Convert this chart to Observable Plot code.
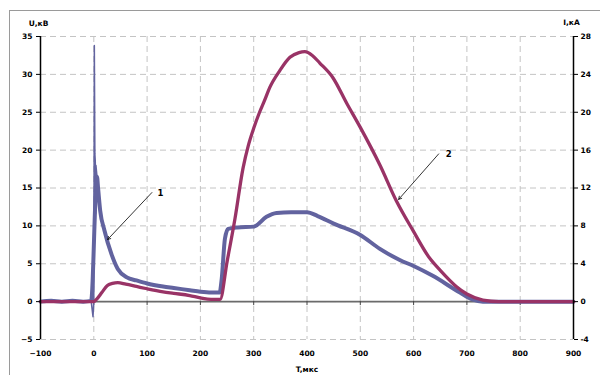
<!DOCTYPE html>
<html><head><meta charset="utf-8">
<script src="https://cdn.jsdelivr.net/npm/d3@7"></script>
<script src="https://cdn.jsdelivr.net/npm/@observablehq/plot@0.6"></script>
<style>
body{margin:0;background:#fff;overflow:hidden}
#wrap{position:relative;width:600px;height:375px;overflow:hidden}
#wrap svg{display:block}
#frame{position:absolute;left:9px;top:10px;width:640px;height:420px;border:1.5px solid #9a9a9a;pointer-events:none}
</style></head><body><div id="wrap"><div id="frame"></div></div>
<script>
// Series 1 (blue): time, мкс  / U, кВ
const T1 = [-100,-80,-60,-40,-20,-5,-1.5,0,1,2,2.8,3.4,4,6,8,12,20,33,45,62,80,100,130,150,180,200,220,236,240,246,252,270,300,324,343,370,400,420,450,500,536,574,600,636,687,710,730,760,800,850,900];
const U1 = [0,0.1,0,0.1,0,0.1,-2,0,33.8,19.5,18.5,11.6,18,16.5,15,12,9.4,6.3,4.3,3.2,2.8,2.4,2.0,1.8,1.5,1.3,1.2,1.2,3,8.3,9.6,9.8,9.9,11.2,11.7,11.8,11.8,11.3,10.3,8.8,7.0,5.5,4.7,3.4,1.2,0.3,0,0,0,0,0];
// Series 2 (crimson): time, мкс / I, кА
const T2 = [-100,-50,0,5,15,25,35,45,60,80,100,130,150,180,200,220,237,250,265,280,290,300,311,320,330,349,368,385,396,410,424,448,475,500,537,568,599,630,650,680,700,730,760,800,900];
const I2 = [0,0,0,0.24,0.96,1.68,1.92,2.0,1.84,1.6,1.36,1.04,0.88,0.64,0.4,0.24,0.24,4.2,8.8,14.1,16.5,18.3,20.0,21.2,22.6,24.4,25.8,26.3,26.4,26.0,25.2,23.7,20.9,18.4,14.4,10.6,7.5,4.6,3.3,1.6,0.8,0.16,0,0,0];

const xTicks = [-100,0,100,200,300,400,500,600,700,800,900];
const xGrid = [0,100,200,300,400,500,600,700,800];
const uTicks = [-5,0,5,10,15,20,25,30,35];
const iTicks = [-4,0,4,8,12,16,20,24,28];
const U_PER_I = 35 / 28;

const annLabels = ["1","2"];
const annTextT = [125, 666];
const annTextU = [14.3, 19.5];
const arrT1 = [109, 647];
const arrU1 = [14.4, 19.5];
const arrT2 = [26, 572];
const arrU2 = [8.2, 13.5];

const s1 = T1.map((t,i) => ({t, u: U1[i]}));
const s2 = T2.map((t,i) => ({t, u: I2[i] * U_PER_I}));
const ann = annLabels.map((l,i) => ({l, tx: annTextT[i], ty: annTextU[i], x1: arrT1[i], y1: arrU1[i], x2: arrT2[i], y2: arrU2[i]}));

const blue = "#62639f";
const crimson = "#993366";

const chart = Plot.plot({
  width: 600, height: 375,
  marginLeft: 40, marginRight: 27, marginTop: 36, marginBottom: 36,
  x: {domain: [-100, 900]},
  y: {domain: [-5, 35]},
  style: {fontFamily: "DejaVu Sans", fontSize: "7.5px", fontWeight: "bold", background: "white", overflow: "visible"},
  marks: [
    Plot.gridY(uTicks, {stroke: "#c4c4c4", strokeOpacity: 1, strokeDasharray: "6,4"}),
    Plot.gridX(xGrid, {stroke: "#c4c4c4", strokeOpacity: 1, strokeDasharray: "6,4"}),
    Plot.ruleY([0], {stroke: "#6b6b6b", strokeWidth: 1.6}),
    Plot.ruleX(xGrid, {y1: 0, y2: 0, insetBottom: -4, stroke: "#444"}),
    Plot.line(s1, {x: "t", y: "u", stroke: blue, strokeWidth: 1.5}),
    Plot.line(s1.filter(d => d.t >= 6 || d.t <= -5), {x: "t", y: "u", stroke: blue, strokeWidth: 4, curve: "monotone-x"}),
    Plot.line(s2, {x: "t", y: "u", stroke: crimson, strokeWidth: 3.3, curve: "monotone-x"}),
    Plot.ruleX([-100, 900], {stroke: "black", strokeWidth: 1.5}),
    Plot.axisY(uTicks, {anchor: "left", tickSize: 4, tickPadding: 4, label: null}),
    Plot.axisY(iTicks.map(v => v * U_PER_I), {anchor: "right", tickSize: 4, tickPadding: 3, tickFormat: d => Math.round(d / U_PER_I), label: null}),
    Plot.axisX(xTicks, {anchor: "bottom", tickSize: 0, tickPadding: 11, label: null}),
    Plot.arrow(ann, {x1: "x1", y1: "y1", x2: "x2", y2: "y2", stroke: "black", strokeWidth: 0.8, headLength: 6}),
    Plot.text(ann, {x: "tx", y: "ty", text: "l", fontSize: 8.5, fontWeight: "bold"}),
    Plot.text(["U,кВ"], {frameAnchor: "top-left", dx: -2, dy: -13, lineAnchor: "middle", textAnchor: "middle"}),
    Plot.text(["I,кА"], {frameAnchor: "top-right", dx: -2, dy: -14, lineAnchor: "middle", textAnchor: "middle"}),
    Plot.text(["T,мкс"], {frameAnchor: "bottom", dy: 30, lineAnchor: "middle", textAnchor: "middle"})
  ]
});
document.getElementById("wrap").prepend(chart);
</script>
</body></html>
